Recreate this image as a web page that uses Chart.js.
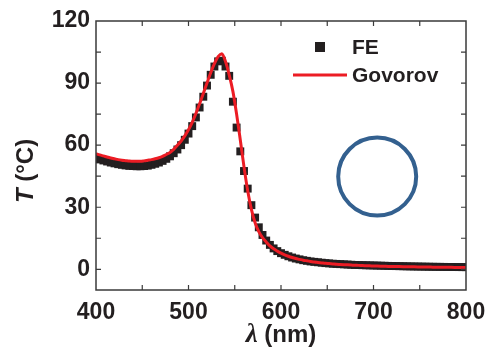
<!DOCTYPE html>
<html>
<head>
<meta charset="utf-8">
<script src="https://cdn.jsdelivr.net/npm/chart.js@4"></script>
<style>
  html, body { margin: 0; padding: 0; background: #fff; }
  #wrap { width: 489px; height: 353px; }
</style>
</head>
<body>
<div id="wrap"><canvas id="tempChart" width="489" height="353"></canvas></div>
<script>
// wavelength (nm)
var wavelength = [
  400, 404, 408, 412, 416, 420, 424, 428, 432, 436, 440, 444, 448, 452, 456, 460, 464, 468, 472, 476,
  480, 484, 488, 492, 496, 500, 504, 508, 512, 516, 520, 524, 528, 532, 536, 540, 544, 548, 552, 556,
  560, 564, 568, 572, 576, 580, 584, 588, 592, 596, 600, 604, 608, 612, 616, 620, 624, 628, 632, 636,
  640, 644, 648, 652, 656, 660, 664, 668, 672, 676, 680, 684, 688, 692, 696, 700, 704, 708, 712, 716,
  720, 724, 728, 732, 736, 740, 744, 748, 752, 756, 760, 764, 768, 772, 776, 780, 784, 788, 792, 796, 800
];

// FE temperature (squares)
var feTemp = [
  53.6, 53.1, 52.6, 52.1, 51.6, 51.2, 50.8, 50.5, 50.2, 50.0, 49.9, 49.8, 49.8, 49.9, 50.1, 50.5, 51.0, 51.6, 52.4, 53.4,
  54.6, 56.1, 57.9, 60.0, 62.6, 65.6, 69.2, 73.4, 78.2, 83.4, 88.8, 94.0, 98.0, 100.5, 100.8, 98.0, 93.5, 81.0, 68.5, 57.0,
  47.5, 39.0, 31.0, 25.0, 20.3, 16.6, 13.9, 11.8, 10.1, 8.8, 7.8, 7.0, 6.3, 5.7, 5.2, 4.8, 4.4, 4.1, 3.8, 3.6,
  3.4, 3.2, 3.0, 2.85, 2.7, 2.6, 2.5, 2.4, 2.3, 2.2, 2.1, 2.05, 2.0, 1.95, 1.9, 1.85, 1.8, 1.75, 1.7, 1.65,
  1.6, 1.56, 1.52, 1.48, 1.44, 1.4, 1.37, 1.34, 1.31, 1.28, 1.25, 1.22, 1.2, 1.18, 1.16, 1.14, 1.12, 1.1, 1.08, 1.06, 1.04
];

// Govorov model (red line)
var govorovTemp = [
  55.9, 55.3, 54.8, 54.3, 53.8, 53.4, 53.0, 52.7, 52.5, 52.3, 52.2, 52.2, 52.2, 52.4, 52.7, 53.0, 53.4, 53.9, 54.6, 55.5,
  56.5, 58.0, 59.9, 62.0, 64.5, 67.4, 71.0, 75.3, 80.0, 85.0, 90.0, 95.0, 99.4, 102.8, 104.2, 100.4, 94.0, 86.0, 75.0, 62.5,
  49.5, 38.0, 29.0, 22.5, 18.2, 15.3, 13.2, 11.3, 9.9, 8.8, 7.8, 7.0, 6.3, 5.7, 5.2, 4.8, 4.4, 4.1, 3.8, 3.5,
  3.3, 3.1, 2.9, 2.75, 2.6, 2.45, 2.35, 2.25, 2.15, 2.05, 1.95, 1.9, 1.8, 1.75, 1.7, 1.6, 1.55, 1.5, 1.45, 1.4,
  1.37, 1.33, 1.3, 1.27, 1.24, 1.21, 1.18, 1.15, 1.12, 1.1, 1.07, 1.05, 1.02, 1.0, 0.98, 0.96, 0.94, 0.92, 0.9, 0.88, 0.86
];

var xTicks = [400, 500, 600, 700, 800];
var yTicks = [0, 30, 60, 90, 120];
var seriesNames = ["FE", "Govorov"];

var FONT = "'Liberation Sans', Arial, Helvetica, sans-serif";

function toPoints(xs, ys) {
  return xs.map(function (x, i) { return { x: x, y: ys[i] }; });
}

// frame, inward ticks, axis titles, legend and the particle circle
var decorPlugin = {
  id: "decor",
  afterDraw: function (chart) {
    var ctx = chart.ctx;
    var a = chart.chartArea;
    var xs = chart.scales.x;
    var ys = chart.scales.y;
    ctx.save();

    // frame
    ctx.strokeStyle = "#3a3a3a";
    ctx.lineWidth = 1.5;
    ctx.strokeRect(a.left, a.top, a.right - a.left, a.bottom - a.top);

    // inward ticks (every 50 nm and every 15 degrees)
    ctx.lineWidth = 1.2;
    ctx.beginPath();
    for (var v = 450; v < 800; v += 50) {
      var px = xs.getPixelForValue(v);
      ctx.moveTo(px, a.bottom); ctx.lineTo(px, a.bottom - 5);
      ctx.moveTo(px, a.top); ctx.lineTo(px, a.top + 5);
    }
    for (var t = 0; t < 120; t += 15) {
      var py = ys.getPixelForValue(t);
      ctx.moveTo(a.left, py); ctx.lineTo(a.left + 5, py);
      ctx.moveTo(a.right, py); ctx.lineTo(a.right - 5, py);
    }
    ctx.stroke();

    // particle circle
    ctx.beginPath();
    ctx.strokeStyle = "#33608f";
    ctx.lineWidth = 4;
    ctx.arc(xs.getPixelForValue(704), ys.getPixelForValue(44.8), 39, 0, Math.PI * 2);
    ctx.stroke();

    // legend
    var fe = chart.data.datasets[1];
    var gv = chart.data.datasets[0];
    ctx.fillStyle = fe.backgroundColor;
    ctx.fillRect(315, 42, 10, 10);
    ctx.strokeStyle = gv.borderColor;
    ctx.lineWidth = 3;
    ctx.beginPath();
    ctx.moveTo(293, 75); ctx.lineTo(347, 75);
    ctx.stroke();
    ctx.fillStyle = "#231f20";
    ctx.font = "bold 21px " + FONT;
    ctx.textBaseline = "middle";
    ctx.textAlign = "left";
    ctx.fillText(seriesNames[0], 352, 48);
    ctx.fillText(seriesNames[1], 352, 76);

    // x title: λ (nm)
    ctx.textBaseline = "alphabetic";
    var lam = "λ";
    var rest = " (nm)";
    var fLam = "italic bold 27px 'Liberation Serif', 'DejaVu Serif', serif";
    var fRest = "bold 24px " + FONT;
    ctx.font = fLam; var w1 = ctx.measureText(lam).width;
    ctx.font = fRest; var w2 = ctx.measureText(rest).width;
    var cx = (a.left + a.right) / 2;
    var sx = cx - (w1 + w2) / 2;
    ctx.font = fLam; ctx.fillText(lam, sx, 342);
    ctx.font = fRest; ctx.fillText(rest, sx + w1, 342);

    // y title: T (°C)
    ctx.translate(33, 171);
    ctx.rotate(-Math.PI / 2);
    var tT = "T";
    var tRest = " (°C)";
    var fT = "italic bold 24px " + FONT;
    ctx.font = fT; var w3 = ctx.measureText(tT).width;
    ctx.font = fRest; var w4 = ctx.measureText(tRest).width;
    var sy = -(w3 + w4) / 2;
    ctx.font = fT; ctx.fillText(tT, sy, 0);
    ctx.font = fRest; ctx.fillText(tRest, sy + w3, 0);

    ctx.restore();
  }
};

var ctx = document.getElementById("tempChart").getContext("2d");
var chart = new Chart(ctx, {
  type: "scatter",
  data: {
    datasets: [
      {
        label: seriesNames[1],
        data: toPoints(wavelength, govorovTemp),
        showLine: true,
        borderColor: "#ec1c24",
        backgroundColor: "#ec1c24",
        borderWidth: 3,
        pointRadius: 0,
        cubicInterpolationMode: "monotone",
        order: 0,
      },
      {
        label: seriesNames[0],
        data: toPoints(wavelength, feTemp),
        showLine: false,
        pointStyle: "rect",
        pointRadius: 5.6,
        pointBorderWidth: 0,
        backgroundColor: "#231f20",
        borderColor: "#231f20",
        order: 1,
      },
    ],
  },
  options: {
    responsive: false,
    animation: false,
    layout: { padding: { top: 21, right: 23, left: 0, bottom: 0 } },
    plugins: {
      legend: { display: false },
      tooltip: { enabled: false },
    },
    scales: {
      x: {
        type: "linear",
        min: 400,
        max: 800,
        afterBuildTicks: function (s) { s.ticks = xTicks.map(function (v) { return { value: v }; }); },
        afterFit: function (s) { s.height = 63; s.paddingLeft = 0; s.paddingRight = 0; },
        grid: { display: false, drawTicks: false },
        border: { display: false },
        ticks: {
          padding: 9,
          color: "#231f20",
          font: { family: FONT, size: 23, weight: "bold" },
        },
      },
      y: {
        type: "linear",
        min: -10,
        max: 120,
        afterBuildTicks: function (s) { s.ticks = yTicks.map(function (v) { return { value: v }; }); },
        afterFit: function (s) { s.width = 96; s.paddingTop = 0; s.paddingBottom = 0; },
        grid: { display: false, drawTicks: false },
        border: { display: false },
        ticks: {
          padding: 6,
          color: "#231f20",
          font: { family: FONT, size: 23, weight: "bold" },
        },
      },
    },
  },
  plugins: [decorPlugin],
});
</script>
</body>
</html>
